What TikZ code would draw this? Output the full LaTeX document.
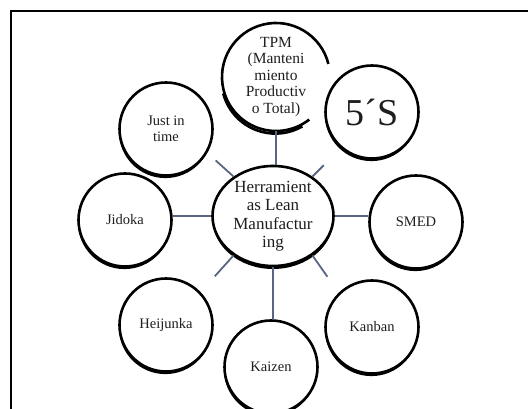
\documentclass[tikz,border=0pt]{standalone}
\usepackage{fontspec}
\setmainfont{Liberation Serif}
\usetikzlibrary{shapes.geometric,shadows}
\definecolor{spokecol}{RGB}{88,102,130}
\definecolor{inkcol}{RGB}{30,30,30}
\tikzset{
    tool/.style={circle,draw,line width=2.6pt,fill=white,minimum size=93pt,inner sep=0pt,
        align=center,text=inkcol,font=\fontsize{14.5}{16}\selectfont,
        drop shadow={shadow xshift=-0.6pt,shadow yshift=-2.6pt,opacity=1,fill=black}},
    spoke/.style={color=spokecol,line width=1.8pt},
}
\begin{document}
\begin{tikzpicture}[x=1pt,y=1pt]
    \useasboundingbox (0,0) rectangle (528,409);
    \draw[line width=2pt] (11,-5) -- (11,398) -- (535,398);

    % open circle of TPM
    \node[align=center,text=inkcol,font=\fontsize{15.5}{16.5}\selectfont,inner sep=0pt,
        minimum size=108pt,circle] (tpm) at (276,332)
        {TPM\\(Manteni\\miento\\Productiv\\o Total)};
    \draw[line width=2.6pt] (276,332) ++(14:54) arc[start angle=14,end angle=308,radius=54];
    \draw[line width=2.6pt] (275.4,329.4) ++(195:54) arc[start angle=195,end angle=300,radius=54];

    \node[ellipse,draw,line width=2.6pt,fill=white,minimum width=121pt,minimum height=100pt,
        inner sep=0pt,align=center,text=inkcol,font=\fontsize{17}{18.5}\selectfont,
        drop shadow={shadow xshift=0pt,shadow yshift=-3pt,opacity=1,fill=black}]
        (lean) at (273,193) {Herramient\\as Lean\\Manufactur\\ing};

    \node[tool] (jit) at (166,280) {Just in\\time};
    \node[tool,font=\fontsize{38}{40}\selectfont] (fives) at (372,297) {5´S};
    \node[tool] (jidoka) at (125,189) {Jidoka};
    \node[tool] (smed) at (416,187) {SMED};
    \node[tool] (heijunka) at (166,84) {Heijunka};
    \node[tool] (kanban) at (372,82) {Kanban};
    \node[tool] (kaizen) at (271,42) {Kaizen};

    \draw[spoke] (tpm.south) -- (tpm.south |- lean.north);
    \draw[spoke] (jidoka.east |- lean.west) -- (lean.west);
    \draw[spoke] (lean.east) -- (smed.west |- lean.east);
    \draw[spoke] (lean.south) -- (lean.south |- kaizen.north);
    \draw[spoke] (lean.135) -- ++(138:24);
    \draw[spoke] (lean.45) -- ++(45:16);
    \draw[spoke] (lean.225) -- ++(228:28);
    \draw[spoke] (lean.-45) -- ++(-55:26);
\end{tikzpicture}
\end{document}
